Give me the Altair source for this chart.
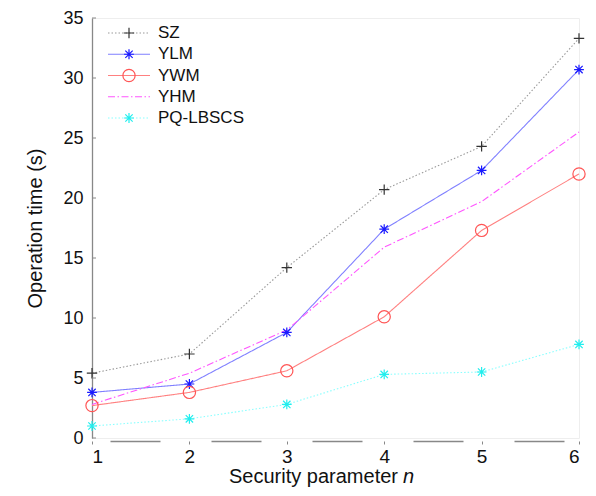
import altair as alt
import pandas as pd

# ---- data ----
n_vals = [1, 2, 3, 4, 5, 6]
series_names = ["SZ", "YLM", "YWM", "YHM", "PQ-LBSCS"]
sz = [5.4, 7.0, 14.2, 20.7, 24.3, 33.3]
ylm = [3.8, 4.5, 8.8, 17.4, 22.3, 30.7]
ywm = [2.7, 3.8, 5.6, 10.1, 17.3, 22.0]
yhm = [2.8, 5.4, 9.0, 15.9, 19.7, 25.5]
pq = [1.0, 1.6, 2.8, 5.3, 5.5, 7.8]
y_ticks = [0, 5, 10, 15, 20, 25, 30, 35]
x_title = "Security parameter"
x_var = "n"
y_title = "Operation time (s)"

values = {"SZ": sz, "YLM": ylm, "YWM": ywm, "YHM": yhm, "PQ-LBSCS": pq}
rows = []
for s in series_names:
    for xv, yv in zip(n_vals, values[s]):
        rows.append({"n": xv, "series": s, "value": yv})
df = pd.DataFrame(rows)
legend_df = pd.DataFrame({"series": series_names})
tick_df = pd.DataFrame({"v": y_ticks})

# ---- styles ----
FONT = "Liberation Sans"
line_colors = ["#9a9a9a", "#8080ff", "#ff8080", "#ff55ff", "#88ffff"]
marker_colors = ["#333333", "#1a1aff", "#ff5555", "#ff55ff", "#22eeee"]
dashes = [[1.5, 2], [1, 0], [1, 0], [7, 2.5, 1.5, 2.5], [1.5, 2]]
plus = "M-0.85,0L0.85,0M0,-0.85L0,0.85"
star = "M-0.8,0L0.8,0M0,-0.8L0,0.8M-0.6,-0.6L0.6,0.6M-0.6,0.6L0.6,-0.6"
circ = "M1,0A1,1 0 1,1 -1,0A1,1 0 1,1 1,0Z"
shapes = [plus, star, circ, "circle", star]

W, H = 487, 420
x_scale = alt.Scale(domain=[1, 6], nice=False, zero=False)
y_scale = alt.Scale(domain=[0, 35], nice=False)
color_enc = alt.Color("series:N", scale=alt.Scale(domain=series_names, range=line_colors), legend=None)
stroke_enc = alt.Stroke("series:N", scale=alt.Scale(domain=series_names, range=marker_colors), legend=None)
dash_enc = alt.StrokeDash("series:N", scale=alt.Scale(domain=series_names, range=dashes), legend=None)
shape_enc = alt.Shape("series:N", scale=alt.Scale(domain=series_names, range=shapes), legend=None)

x_axis = alt.Axis(values=n_vals, format="d", title=None, domainDash=[50, 51],
                  domainDashOffset=83, domainColor="#888888", domainWidth=1.5,
                  offset=3, tickSize=3, tickColor="#888888", labelPadding=3,
                  grid=False, labelFontSize=19, labelColor="#111111")
y_axis = alt.Axis(values=y_ticks, title=y_title, domainColor="#888888", domainWidth=1.3,
                  tickSize=0, labelPadding=9, grid=False, labelFontSize=18,
                  titleFontSize=20, titleFontWeight="normal", titlePadding=17,
                  labelColor="#111111", titleColor="#111111")

base = alt.Chart(df)
lines = base.mark_line(strokeWidth=1.1).encode(
    x=alt.X("n:Q", scale=x_scale, axis=x_axis),
    y=alt.Y("value:Q", scale=y_scale, axis=y_axis),
    color=color_enc,
    strokeDash=dash_enc,
)
points = base.transform_filter(alt.datum.series != "YHM").mark_point(
    filled=False, strokeWidth=1.2, size=150, opacity=1
).encode(
    x=alt.X("n:Q", scale=x_scale),
    y=alt.Y("value:Q", scale=y_scale, axis=None),
    shape=shape_enc,
    stroke=stroke_enc,
)
yticks = alt.Chart(tick_df).mark_rule(color="#888888", strokeWidth=1).encode(
    x=alt.value(0), x2=alt.value(4),
    y=alt.Y("v:Q", scale=y_scale, axis=None),
)

ly = alt.Y("series:N", scale=alt.Scale(type="point", domain=series_names, range=[15, 100], padding=0), axis=None)
leg_lines = alt.Chart(legend_df).mark_rule(strokeWidth=1.1).encode(
    x=alt.value(16), x2=alt.value(58), y=ly, color=color_enc, strokeDash=dash_enc,
)
leg_points = alt.Chart(legend_df).transform_filter(alt.datum.series != "YHM").mark_point(
    filled=False, strokeWidth=1.2, size=150, opacity=1
).encode(x=alt.value(37), y=ly, shape=shape_enc, stroke=stroke_enc)
leg_text = alt.Chart(legend_df).mark_text(
    align="left", baseline="middle", fontSize=17, font=FONT, color="#111111"
).encode(x=alt.value(66), y=ly, text="series:N")

title_df = pd.DataFrame({"a": [x_title], "b": [x_var]})
xt1 = alt.Chart(title_df).mark_text(
    align="right", baseline="middle", fontSize=20, font=FONT, color="#111111"
).encode(x=alt.value(306), y=alt.value(H + 39), text="a:N")
xt2 = alt.Chart(title_df).mark_text(
    align="left", baseline="middle", fontSize=20, font=FONT, fontStyle="italic", color="#111111"
).encode(x=alt.value(311), y=alt.value(H + 39), text="b:N")

chart = alt.layer(
    lines, points, yticks, leg_lines, leg_points, leg_text, xt1, xt2
).resolve_scale(y="independent").properties(
    width=W, height=H,
    autosize=alt.AutoSizeParams(type="none"),
    padding={"left": 84, "top": 10, "right": 9, "bottom": 50},
).configure_view(stroke="#eeeeee").configure_axis(
    labelFont=FONT, titleFont=FONT
)

chart.save("out.html", embed_options={"renderer": "svg", "actions": False})
